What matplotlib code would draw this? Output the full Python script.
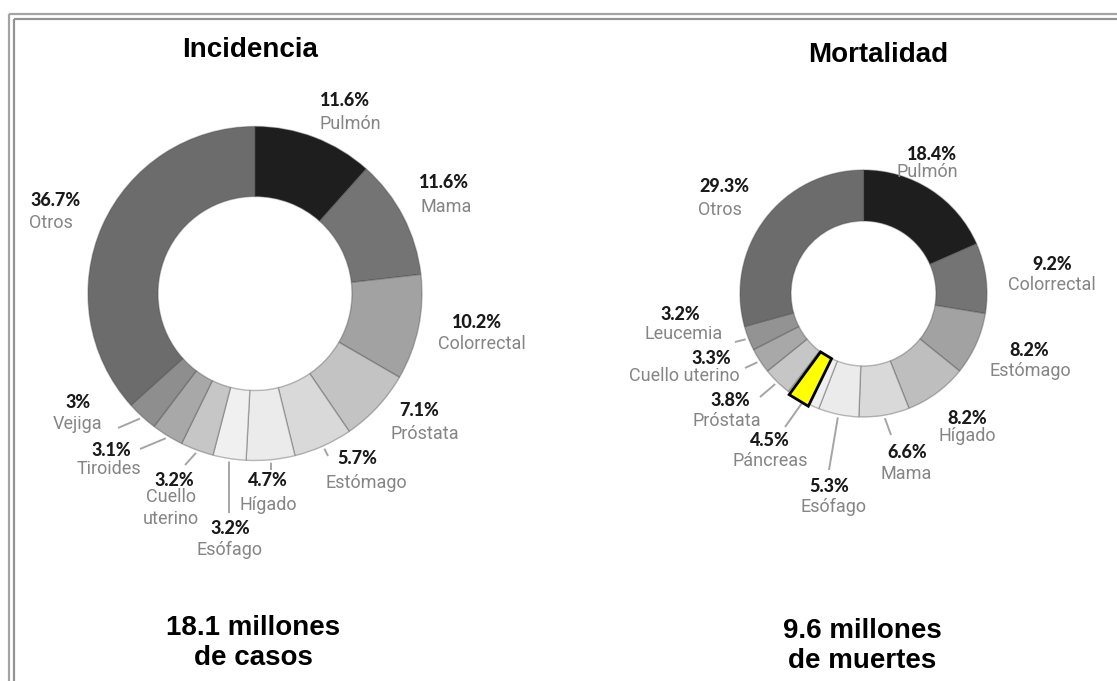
import numpy as np
import matplotlib.pyplot as plt
from matplotlib.patches import Polygon

W, H = 1117, 681

# Incidencia
inc_names = ["Pulmón", "Mama", "Colorrectal", "Próstata", "Estómago", "Hígado",
             "Esófago", "Cuello\nuterino", "Tiroides", "Vejiga", "Otros"]
inc_values = [11.6, 11.6, 10.2, 7.1, 5.7, 4.7, 3.2, 3.2, 3.1, 3.0, 36.7]
inc_pct = ["11.6%", "11.6%", "10.2%", "7.1%", "5.7%", "4.7%", "3.2%", "3.2%", "3.1%", "3%", "36.7%"]

# Mortalidad
mor_names = ["Pulmón", "Colorrectal", "Estómago", "Hígado", "Mama", "Esófago",
             "Páncreas", "Próstata", "Cuello uterino", "Leucemia", "Otros"]
mor_values = [18.4, 9.2, 8.2, 8.2, 6.6, 5.3, 4.5, 3.8, 3.3, 3.2, 29.3]
mor_pct = ["18.4%", "9.2%", "8.2%", "8.2%", "6.6%", "5.3%", "4.5%", "3.8%", "3.3%", "3.2%", "29.3%"]
highlight = "Páncreas"

inc_colors = ["#1e1e1e", "#747474", "#a2a2a2", "#c3c3c3", "#d9d9d9", "#ebebeb",
              "#f0f0f0", "#c6c6c6", "#a8a8a8", "#8e8e8e", "#6c6c6c"]
mor_colors = ["#1e1e1e", "#747474", "#a2a2a2", "#bebebe", "#d9d9d9", "#ebebeb",
              "#f0f0f0", "#c6c6c6", "#a8a8a8", "#939393", "#6c6c6c"]

# label layout in pixel space: (x, y) of the percentage, (x, y) of the name
inc_labels = [(345, 101, 350, 124), (444, 182, 446, 207), (477, 322, 482, 344),
              (419, 410, 425, 434), (357, 459, 366, 483), (268, 480, 268, 505),
              (230, 528, 230, 550), (174, 481, 171, 508), (111, 450, 109, 469),
              (78, 403, 78, 424), (56, 200, 51, 223)]
mor_labels = [(932, 155, 927, 172), (1052, 265, 1052, 285), (1029, 351, 1030, 371),
              (967, 418, 967, 436), (907, 453, 906, 474), (829, 486, 833, 507),
              (770, 440, 770, 461), (730, 400, 727, 421), (711, 358, 684, 376),
              (680, 314, 684, 334), (724, 187, 720, 210)]
# leader line end points (None = no line)
inc_leaders = [None, None, None, None, (328, 456), (271, 470), (229, 513),
               (185, 465), (140, 449), (118, 428), None]
mor_leaders = [None, None, None, None, (891, 435), (829, 470), (785, 427),
               (760, 397), (745, 368), (735, 342), None]

PCT_FONT = dict(family=["Lato", "DejaVu Sans"], weight="black", color="#1a1a1a", fontsize=13)
NAME_FONT = dict(family=["Roboto", "DejaVu Sans"], color="#858585", fontsize=13)
BIG_FONT = dict(family=["Liberation Sans", "DejaVu Sans"], weight="bold", color="black", fontsize=20)


def mid_point(values, i, cx, cy, r):
    total = sum(values)
    theta = np.deg2rad(360 * (sum(values[:i]) + values[i] / 2) / total)
    return cx + r * np.sin(theta), cy - r * np.cos(theta)


def donut(ax, values, colors, cx, cy, r_out, r_in):
    ax.pie(values, colors=colors, startangle=90, counterclock=False,
           radius=r_out, center=(cx, H - cy),
           wedgeprops=dict(width=r_out - r_in, edgecolor=(0.25, 0.25, 0.25, 0.35), linewidth=1))


def labels(ax, values, pcts, names, layout, leaders, cx, cy, r_out):
    for i, (xp, yp, xn, yn) in enumerate(layout):
        ax.text(xp, H - yp, pcts[i], ha="center", va="center", **PCT_FONT)
        ax.text(xn, H - yn, names[i], ha="center", va="center", linespacing=1.25, **NAME_FONT)
        if leaders[i] is not None:
            sx, sy = mid_point(values, i, cx, cy, r_out + 3)
            ex, ey = leaders[i]
            ax.plot([sx, ex], [H - sy, H - ey], color="#a5a5a5", lw=1.4, solid_capstyle="butt")


fig = plt.figure(figsize=(W / 100, H / 100), dpi=100)
ax = fig.add_axes([0, 0, 1, 1])

inc_c = (255, 293.5, 167, 97)
mor_c = (863.5, 293.5, 123.5, 72.5)

donut(ax, inc_values, inc_colors, *inc_c)
donut(ax, mor_values, mor_colors, *mor_c)
labels(ax, inc_values, inc_pct, inc_names, inc_labels, inc_leaders, *inc_c[:3])
labels(ax, mor_values, mor_pct, mor_names, mor_labels, mor_leaders, *mor_c[:3])

# yellow marker over the pancreas slice
k = mor_names.index(highlight)
total = sum(mor_values)
a0 = 360 * sum(mor_values[:k]) / total
a1 = 360 * sum(mor_values[:k + 1]) / total
span = a1 - a0
t0, t1 = np.deg2rad(a0 + 0.3 * span), np.deg2rad(a1 - 0.07 * span)
cx, cy, ro, ri = mor_c
ro += 2
corners = [(cx + r * np.sin(t), H - (cy - r * np.cos(t)))
           for r, t in [(ri, t0), (ri, t1), (ro, t1), (ro, t0)]]
ax.add_patch(Polygon(corners, closed=True, facecolor="#ffff00", edgecolor="black", lw=2, zorder=5))

ax.text(250, H - 50, "Incidencia", ha="center", va="center", **BIG_FONT)
ax.text(878, H - 55, "Mortalidad", ha="center", va="center", **BIG_FONT)
ax.text(253, H - 643, "18.1 millones\nde casos", ha="center", va="center", linespacing=1.2, **BIG_FONT)
ax.text(862, H - 646, "9.6 millones\nde muertes", ha="center", va="center", linespacing=1.2, **BIG_FONT)

# double grey frame
for off, col in [(9, "#a4a4a4"), (14, "#939393")]:
    ax.plot([off, off], [0, H - off - 5], color=col, lw=1.6, solid_capstyle="butt")
    ax.plot([off, W], [H - off - 5, H - off - 5], color=col, lw=1.6, solid_capstyle="butt")

ax.set_xlim(0, W)
ax.set_ylim(0, H)
ax.set_aspect("equal")
ax.axis("off")
fig.savefig("out.png", dpi=100, facecolor="white")
